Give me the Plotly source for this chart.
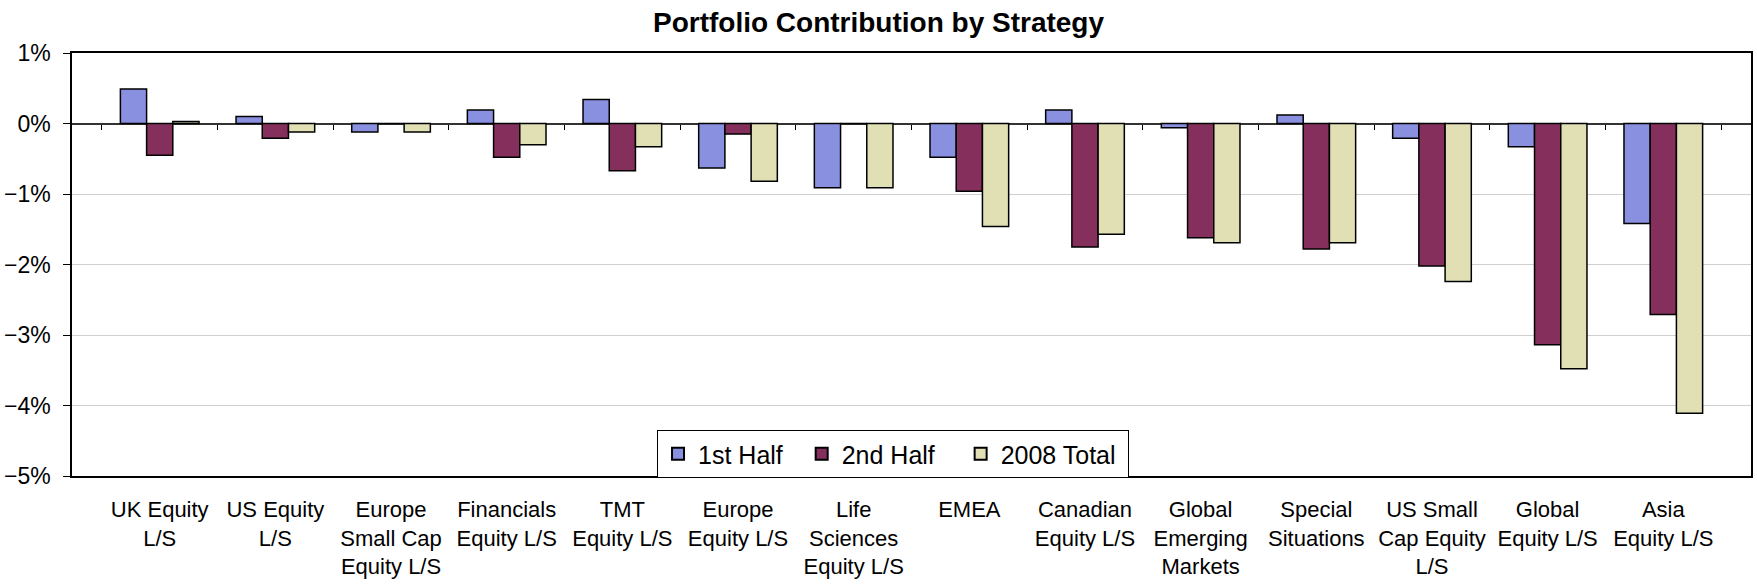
import plotly.graph_objects as go

# Strategy categories (tick labels as wrapped in the original)
strategies = [
    "UK Equity<br>L/S", "US Equity<br>L/S", "Europe<br>Small Cap<br>Equity L/S",
    "Financials<br>Equity L/S", "TMT<br>Equity L/S", "Europe<br>Equity L/S",
    "Life<br>Sciences<br>Equity L/S", "EMEA", "Canadian<br>Equity L/S",
    "Global<br>Emerging<br>Markets", "Special<br>Situations",
    "US Small<br>Cap Equity<br>L/S", "Global<br>Equity L/S", "Asia<br>Equity L/S",
]

# contributions in %
first_half = [0.49, 0.10, -0.12, 0.19, 0.34, -0.63, -0.91, -0.48, 0.19, -0.06, 0.12, -0.21, -0.33, -1.42]
second_half = [-0.45, -0.21, 0.0, -0.48, -0.67, -0.15, 0.0, -0.96, -1.75, -1.62, -1.78, -2.02, -3.14, -2.71]
total_2008 = [0.03, -0.12, -0.12, -0.30, -0.33, -0.82, -0.91, -1.46, -1.57, -1.69, -1.69, -2.24, -3.48, -4.11]

series_names = ["1st Half", "2nd Half", "2008 Total"]
series_colors = ["#8a90e0", "#85305c", "#e0e0b4"]
# extra non-breaking spaces widen the legend entries like the original
legend_pad = [2, 3, 1]

FONT = "Liberation Sans, Arial, sans-serif"

fig = go.Figure()
for name, vals, col, pad in zip(series_names, [first_half, second_half, total_2008],
                                series_colors, legend_pad):
    fig.add_trace(go.Bar(
        x=strategies, y=vals, name=name + "\u00a0" * pad,
        marker=dict(color=col, line=dict(color="black", width=1.5)),
    ))

# ticks between categories sitting on the 0% line
fig.add_trace(go.Scatter(x=strategies, y=[None] * len(strategies), xaxis="x2",
                         showlegend=False, hoverinfo="skip"))

fig.update_layout(
    width=1757, height=586,
    margin=dict(l=72, r=6, t=53, b=110),
    paper_bgcolor="white", plot_bgcolor="white",
    font=dict(family=FONT, size=22, color="black"),
    title=dict(text="<b>Portfolio Contribution by Strategy</b>",
               font=dict(size=28, family=FONT, color="black"),
               x=0.5, xref="container", xanchor="center",
               y=1 - 22 / 586, yref="container", yanchor="middle"),
    barmode="group", bargap=0.32, bargroupgap=0,
    legend=dict(orientation="h", x=0.489, xanchor="center", y=-0.005, yanchor="bottom",
                bgcolor="white", bordercolor="black", borderwidth=1,
                font=dict(size=25), itemsizing="constant"),
    xaxis=dict(showline=True, linecolor="black", linewidth=1.5, mirror=True,
               ticks="", tickfont=dict(size=22), ticklabelstandoff=13,
               automargin=False),
    xaxis2=dict(overlaying="x", anchor="free", position=5 / 6, showline=False,
                ticks="outside", tickson="boundaries", ticklen=5, tickcolor="black",
                showticklabels=False, showgrid=False, matches="x"),
    yaxis=dict(range=[-5, 1], dtick=1, ticksuffix="%", showline=True,
               linecolor="black", linewidth=1.5, mirror=True,
               ticks="outside", ticklen=7, tickcolor="black",
               showgrid=True, gridcolor="#cfcfcf", gridwidth=1,
               zeroline=True, zerolinecolor="#333333", zerolinewidth=1.5,
               tickfont=dict(size=23), ticklabelstandoff=8, automargin=False),
)

# drop the default page margin so the chart sits at the window origin
fig.write_html("out.html", config={"displayModeBar": False},
               post_script="document.body.style.margin='0';")
